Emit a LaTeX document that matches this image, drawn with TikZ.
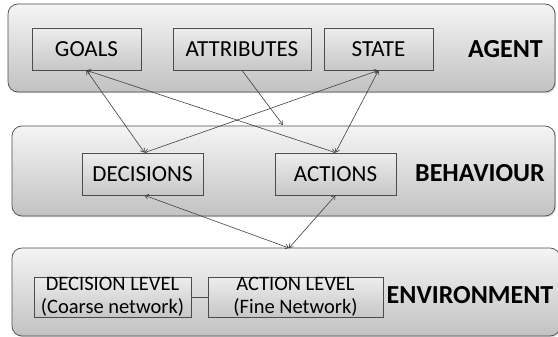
\documentclass[tikz,border=0pt]{standalone}
\usepackage{fontspec}
\setmainfont{Carlito}
\usetikzlibrary{arrows.meta,shadows}
\begin{document}
\begin{tikzpicture}[x=1pt,y=-1pt,
  panel/.style={draw=black!70, line width=0.7pt, rounded corners=10pt,
    top color=black!4, bottom color=black!24, inner sep=0pt,
    drop shadow={shadow xshift=1.2pt,shadow yshift=-1.2pt,opacity=0.3}},
  box/.style={draw=black!70, line width=0.7pt, top color=black!7, bottom color=black!22,
    inner sep=0pt, minimum height=42pt, font=\fontsize{23}{27}\selectfont,
    drop shadow={shadow xshift=1pt,shadow yshift=-1pt,opacity=0.25}},
  envbox/.style={box, minimum height=40pt, align=center,
    font=\fontsize{20.5}{23}\selectfont},
  title/.style={font=\fontsize{26}{30}\selectfont\bfseries, inner sep=0pt},
  link/.style={draw=black!75, line width=0.6pt,
    {Straight Barb[length=3.5pt,width=5pt]}-{Straight Barb[length=3.5pt,width=5pt]}},
  oneway/.style={draw=black!75, line width=0.6pt, -{Straight Barb[length=3.5pt,width=5pt]}}]
\useasboundingbox (0,0) rectangle (558,337);

% three layers
\node[panel, minimum width=547pt, minimum height=88pt] (agent) at (281.5,48) {};
\node[panel, minimum width=543pt, minimum height=90pt] (behaviour) at (283.5,171) {};
\node[panel, minimum width=548pt, minimum height=88pt] (environment) at (286,292) {};

% agent layer
\node[box, minimum width=109pt] (goals) at (86.5,49) {GOALS};
\node[box, minimum width=138pt] (attributes) at (242,49) {ATTRIBUTES};
\node[box, minimum width=109pt] (state) at (378.5,49) {STATE};
\node[title] (agentlabel) at (505.5,49) {AGENT};

% behaviour layer
\node[box, minimum width=121pt] (decisions) at (142.5,174) {DECISIONS};
\node[box, minimum width=121pt] (actions) at (335.5,174) {ACTIONS};
\node[title] (behaviourlabel) at (480,173) {BEHAVIOUR};

% environment layer
\node[envbox, minimum width=157pt] (declevel) at (112.5,297) {DECISION LEVEL\\(Coarse network)};
\node[envbox, minimum width=175pt] (actlevel) at (295.5,297) {ACTION LEVEL\\(Fine Network)};
\node[title] (envlabel) at (470,295) {ENVIRONMENT};
\draw[draw=black!70, line width=0.7pt] (declevel) -- (actlevel);

% connections between layers
\coordinate (attrend) at (283,125);
\coordinate (envtop) at (289,248);
\draw[link] (goals.south) -- ([xshift=2pt]decisions.north);
\draw[link] (goals.south) -- (actions.north);
\draw[link] (state.south) -- ([xshift=2pt]decisions.north);
\draw[link] (state.south) -- (actions.north);
\draw[oneway] (attributes.south) -- (attrend);
\draw[link] ([xshift=2pt]decisions.south) -- (envtop);
\draw[link] (actions.south) -- (envtop);
\end{tikzpicture}
\end{document}
